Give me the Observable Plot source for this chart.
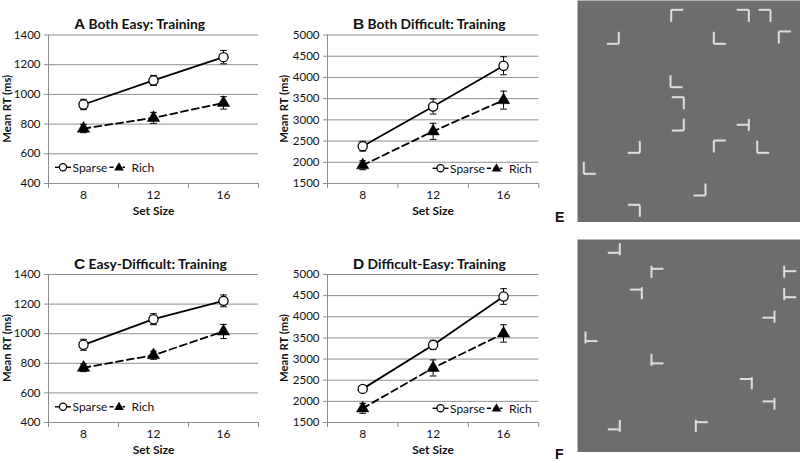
<!DOCTYPE html>
<html>
<head>
<meta charset="utf-8">
<script src="https://cdn.jsdelivr.net/npm/d3@7"></script>
<script src="https://cdn.jsdelivr.net/npm/@observablehq/plot@0.6"></script>
<style>
  html, body { margin: 0; padding: 0; background: #fff; }
  #page { position: relative; width: 800px; height: 463px; overflow: hidden; background: #fff; }
  #page > svg, #page > div { position: absolute; }
</style>
</head>
<body>
<div id="page"></div>
<script>
// ---------- data ----------
const setSizes = [8, 12, 16];
const seriesNames = ["Sparse", "Rich"];

const panelLetters = ["A", "B", "C", "D"];
const panelTitles = ["Both Easy: Training", "Both Difficult: Training", "Easy-Difficult: Training", "Difficult-Easy: Training"];
const xTitle = "Set Size";
const yTitle = "Mean RT (ms)";

const easyTicks = [400, 600, 800, 1000, 1200, 1400];
const hardTicks = [1500, 2000, 2500, 3000, 3500, 4000, 4500, 5000];

// Panel A: Both Easy
const aSparse = [932, 1094, 1251];
const aSparseErr = [35, 34, 45];
const aRich = [770, 842, 943];
const aRichErr = [28, 37, 42];
// Panel B: Both Difficult
const bSparse = [2380, 3315, 4275];
const bSparseErr = [115, 178, 212];
const bRich = [1930, 2730, 3465];
const bRichErr = [105, 190, 212];
// Panel C: Easy-Difficult
const cSparse = [925, 1098, 1222];
const cSparseErr = [37, 37, 40];
const cRich = [770, 855, 1015];
const cRichErr = [26, 28, 48];
// Panel D: Difficult-Easy
const dSparse = [2295, 3335, 4480];
const dSparseErr = [45, 110, 185];
const dRich = [1835, 2790, 3605];
const dRichErr = [118, 190, 205];

// Stimulus displays E and F: each glyph = vertical bar (x, top y), arm direction, junction position along the bar
const eGlyphX    = [93.7, 171.3, 193, 41.3, 136.3, 201.3, 93, 106.3, 106.3, 171.3, 62.3, 136.3, 179.7, 6.3, 128, 62.3];
const eGlyphY    = [9.3, 9.3, 9.3, 31.3, 31.3, 31, 74.7, 96.7, 118, 118.3, 140.3, 140, 140.3, 161.3, 183, 204.3];
const eGlyphDir  = [1, -1, -1, -1, 1, 1, 1, -1, -1, -1, -1, 1, 1, 1, -1, -1];
const eGlyphJoin = [0, 0, 0, 1, 1, 0, 1, 0, 1, 0.5, 1, 0, 1, 1, 1, 0];

const fGlyphX    = [42.3, 74, 64.3, 8, 206.7, 206.7, 197, 74, 42.3, 174.3, 197, 118.3];
const fGlyphY    = [3.7, 26.3, 47.7, 92, 26.3, 48.7, 71, 114.3, 180.3, 137.7, 158.3, 180.3];
const fGlyphDir  = [-1, 1, -1, 1, 1, 1, -1, 1, -1, -1, -1, 1];
const fGlyphJoin = [0.8, 0.25, 0.2, 0.8, 0.45, 0.75, 0.6, 0.8, 0.8, 0.15, 0.3, 0.2];

// ---------- helpers ----------
const page = d3.select("#page");
const FONT = "Lato, 'Open Sans', sans-serif";
const GRID = "#8e8e8e";

function place(node, left, top) {
  node.style.position = "absolute";
  node.style.left = left + "px";
  node.style.top = top + "px";
  page.node().appendChild(node);
}

function chartPanel(sp, spErr, ri, riErr, ticks, cfg) {
  const rows = [];
  setSizes.forEach((s, i) => {
    rows.push({size: s, rt: sp[i], err: spErr[i], series: seriesNames[0]});
    rows.push({size: s, rt: ri[i], err: riErr[i], series: seriesNames[1]});
  });
  const sparse = rows.filter(d => d.series === "Sparse");
  const rich = rows.filter(d => d.series === "Rich");
  const yDomain = [ticks[0], ticks[ticks.length - 1]];
  return Plot.plot({
    width: 270, height: cfg.h,
    marginTop: cfg.mt, marginBottom: cfg.mb, marginLeft: cfg.ml, marginRight: cfg.mr,
    style: {fontFamily: FONT, fontSize: "11.5px", background: "transparent", overflow: "visible"},
    x: {type: "linear", domain: [6, 18]},
    y: {domain: yDomain},
    marks: [
      Plot.gridY(ticks, {stroke: GRID, strokeOpacity: 1, strokeWidth: 1}),
      Plot.axisY(ticks, {tickSize: 4, tickPadding: 4, stroke: GRID, fill: "#111", label: null, fontSize: 11.5, tickFormat: d3.format("d")}),
      Plot.ruleX([6], {stroke: GRID}),
      Plot.ruleY([yDomain[0]], {stroke: GRID}),
      Plot.axisX([6, 10, 14, 18], {tickSize: 5, stroke: GRID, tickFormat: () => "", label: null}),
      Plot.axisX(setSizes, {tickSize: 0, tickPadding: 7, fill: "#111", label: null, fontSize: 12}),
      Plot.ruleX(rows, {x: "size", y1: d => d.rt - d.err, y2: d => d.rt + d.err, stroke: "black", strokeWidth: 1}),
      Plot.link(rows, {x1: d => d.size - 0.19, x2: d => d.size + 0.19, y1: d => d.rt + d.err, y2: d => d.rt + d.err, stroke: "black", strokeWidth: 1}),
      Plot.link(rows, {x1: d => d.size - 0.19, x2: d => d.size + 0.19, y1: d => d.rt - d.err, y2: d => d.rt - d.err, stroke: "black", strokeWidth: 1}),
      Plot.line(sparse, {x: "size", y: "rt", stroke: "black", strokeWidth: 1.8}),
      Plot.line(rich, {x: "size", y: "rt", stroke: "black", strokeWidth: 1.8, strokeDasharray: "7,4"}),
      Plot.dot(sparse, {x: "size", y: "rt", r: 4.6, fill: "white", stroke: "black", strokeWidth: 1.3}),
      Plot.dot(rich, {x: "size", y: "rt", symbol: "triangle", r: 4.6, fill: "black", stroke: "black", strokeWidth: 0.5})
    ]
  });
}

function stimulusPanel(gx, gy, gdir, gjoin, w, h) {
  const L = 12;
  const glyphs = gx.map((x, i) => ({x, y: gy[i], dir: gdir[i], join: gjoin[i]}));
  return Plot.plot({
    width: w, height: h, margin: 0,
    style: {background: "transparent"},
    x: {domain: [0, w], range: [0, w], axis: null},
    y: {domain: [0, h], range: [0, h], axis: null},
    marks: [
      Plot.frame({fill: "#6d6d6d", stroke: null}),
      Plot.link(glyphs, {x1: "x", x2: "x", y1: "y", y2: d => d.y + L, stroke: "#dedede", strokeWidth: 2}),
      Plot.link(glyphs, {x1: "x", x2: d => d.x + d.dir * L, y1: d => d.y + d.join * L, y2: d => d.y + d.join * L, stroke: "#dedede", strokeWidth: 2})
    ]
  });
}

// ---------- charts ----------
const topCfgL = {h: 230, mt: 34.5, mb: 47, ml: 48, mr: 12};
const topCfgR = {h: 230, mt: 34.5, mb: 47, ml: 57, mr: 1.75};
const botCfgL = {h: 233, mt: 44, mb: 41, ml: 48, mr: 12};
const botCfgR = {h: 233, mt: 44, mb: 41, ml: 57, mr: 1.75};

place(chartPanel(aSparse, aSparseErr, aRich, aRichErr, easyTicks, topCfgL), 0, 0);
place(chartPanel(bSparse, bSparseErr, bRich, bRichErr, hardTicks, topCfgR), 270, 0);
place(chartPanel(cSparse, cSparseErr, cRich, cRichErr, easyTicks, botCfgL), 0, 230);
place(chartPanel(dSparse, dSparseErr, dRich, dRichErr, hardTicks, botCfgR), 270, 230);

place(stimulusPanel(eGlyphX, eGlyphY, eGlyphDir, eGlyphJoin, 223, 222), 577, 0);
place(stimulusPanel(fGlyphX, fGlyphY, fGlyphDir, fGlyphJoin, 223, 213), 577, 239);

// ---------- overlay text: titles, axis titles, legends, panel letters ----------
const ov = d3.create("svg").attr("width", 800).attr("height", 463)
  .style("position", "absolute").style("left", "0px").style("top", "0px")
  .style("pointer-events", "none").style("font-family", FONT);

const layout = [
  {lx: 74,  ty: 29.3,  ylx: 10.5, yly: 108.75, xlx: 153.5, xly: 215, legx: 55,  legy: 167.3},
  {lx: 353, ty: 29.3,  ylx: 288,  yly: 108.75, xlx: 433,   xly: 215, legx: 432.5, legy: 168.3},
  {lx: 74,  ty: 269.3, ylx: 10.5, yly: 348,    xlx: 153.5, xly: 454, legx: 55,  legy: 406.8},
  {lx: 353, ty: 269.3, ylx: 288,  yly: 348,    xlx: 433,   xly: 454, legx: 432.5, legy: 408.3}
];

layout.forEach((p, i) => {
  const t = ov.append("text").attr("x", p.lx).attr("y", p.ty).attr("fill", "#111");
  t.append("tspan").text(panelLetters[i]).attr("font-family", "'Liberation Sans', Arial, sans-serif")
    .attr("font-weight", "bold").attr("font-size", 15.5);
  t.append("tspan").text(" " + panelTitles[i]).attr("font-weight", "bold").attr("font-size", 13.8).attr("dx", 0);

  ov.append("text").attr("transform", `translate(${p.ylx},${p.yly}) rotate(-90)`)
    .attr("text-anchor", "middle").attr("font-weight", "bold").attr("font-size", 11.3).attr("fill", "#111")
    .text(yTitle);
  ov.append("text").attr("x", p.xlx).attr("y", p.xly).attr("text-anchor", "middle")
    .attr("font-weight", "bold").attr("font-size", 12).attr("fill", "#111").text(xTitle);

  // legend
  const g = ov.append("g").attr("transform", `translate(${p.legx},${p.legy})`);
  g.append("line").attr("x1", 0).attr("x2", 16).attr("y1", 0).attr("y2", 0).attr("stroke", "black").attr("stroke-width", 1.4);
  g.append("circle").attr("cx", 8).attr("cy", 0).attr("r", 3.6).attr("fill", "white").attr("stroke", "black").attr("stroke-width", 1.2);
  g.append("text").attr("x", 17.5).attr("y", 4.2).attr("font-size", 12).attr("fill", "#111").text(seriesNames[0]);
  g.append("line").attr("x1", 54.5).attr("x2", 70).attr("y1", 0).attr("y2", 0).attr("stroke", "black").attr("stroke-width", 1.4).attr("stroke-dasharray", "4,2.5");
  g.append("path").attr("d", d3.symbol(d3.symbolTriangle, 40)()).attr("transform", "translate(64,0.5)").attr("fill", "black");
  g.append("text").attr("x", 76.5).attr("y", 4.2).attr("font-size", 12).attr("fill", "#111").text(seriesNames[1]);
});

ov.append("text").attr("x", 555).attr("y", 221.7).attr("font-family", "'Liberation Sans', Arial, sans-serif")
  .attr("font-weight", "bold").attr("font-size", 14).attr("fill", "#111").text("E");
ov.append("text").attr("x", 555).attr("y", 459).attr("font-family", "'Liberation Sans', Arial, sans-serif")
  .attr("font-weight", "bold").attr("font-size", 14).attr("fill", "#111").text("F");

page.node().appendChild(ov.node());
</script>
</body>
</html>
